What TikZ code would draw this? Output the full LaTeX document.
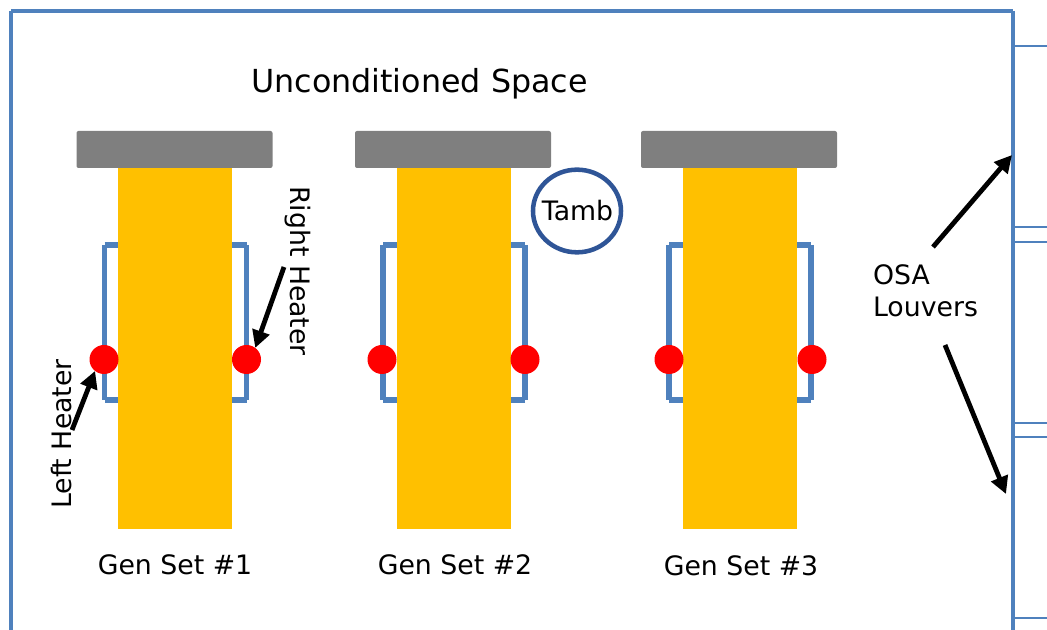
\documentclass[tikz,border=0pt]{standalone}
\usepackage{fontspec}
\setmainfont{DejaVu Sans}
\usetikzlibrary{arrows.meta,shapes.geometric}
\definecolor{wallblue}{HTML}{4F81BD}
\definecolor{tambblue}{HTML}{2F5597}
\definecolor{body}{HTML}{FFC000}
\definecolor{head}{HTML}{7F7F7F}
\tikzset{
  x=0.75pt, y=-0.75pt,
  txt/.style={font=\fontsize{20.05pt}{24pt}\selectfont, inner sep=0pt, outer sep=0pt, text=black},
  bigtxt/.style={font=\fontsize{23.8pt}{28pt}\selectfont, inner sep=0pt, outer sep=0pt, text=black},
  wall/.style={draw=wallblue, line width=3.6pt},
  stub/.style={draw=wallblue, line width=1.6pt},
  bracket/.style={draw=wallblue, line width=4.2pt},
  genbody/.style={fill=body, minimum width=85.5pt, minimum height=270.75pt, inner sep=0pt, outer sep=0pt},
  genhead/.style={fill=head, rounded corners=1.5pt, minimum width=147pt, minimum height=27.75pt, inner sep=0pt, outer sep=0pt},
  heater/.style={circle, fill=red, minimum size=21.75pt, inner sep=0pt, outer sep=0pt},
  pointer/.style={draw=black, line width=3.6pt, -{Triangle[length=13pt,width=13pt]}},
  sensor/.style={ellipse, draw=tambblue, line width=3.4pt, minimum width=66pt, minimum height=62pt, inner sep=0pt},
}
\begin{document}
\begin{tikzpicture}
\useasboundingbox (0,0) rectangle (1047,630);
% outer walls
\coordinate (tl) at (11,11);
\coordinate (tr) at (1013,11);
\coordinate (bl) at (11,630);
\coordinate (br) at (1013,630);
\draw[wall] (tl) -- (bl);
\draw[wall] (tl) -- (tr);
\draw[wall] (tr) -- (br);
% louvers
\foreach \n/\yy in {a/46,b/227,c/242,d/423,e/437,f/618}{
  \coordinate (l\n) at (1013,\yy);
  \coordinate (m\n) at (1047,\yy);
  \draw[stub] (l\n) -- (m\n);
}
% generator sets
\foreach \i/\xb/\xh/\lx/\rx/\cl/\cr/\lab/\ly in {
  1/175/174.5/104.5/246.5/104/246.5/175/565,
  2/454/453/383/525/382/525/455/565,
  3/740/739/669/811/669/812/741/566}{
  \coordinate (tl\i) at (\lx,245);
  \coordinate (bl\i) at (\lx,400);
  \coordinate (tr\i) at (\rx,245);
  \coordinate (br\i) at (\rx,400);
  \coordinate (til\i) at (\xb,245);
  \coordinate (bil\i) at (\xb,400);
  \draw[bracket] (tl\i) -- (bl\i);
  \draw[bracket] (tl\i) -- (til\i);
  \draw[bracket] (bl\i) -- (bil\i);
  \draw[bracket] (tr\i) -- (br\i);
  \draw[bracket] (tr\i) -- (til\i);
  \draw[bracket] (br\i) -- (bil\i);
  \node[genbody] (body\i) at (\xb,348.5) {};
  \node[genhead] (head\i) at (\xh,149.5) {};
  \node[heater] (hl\i) at (\cl,359.5) {};
  \node[heater] (hr\i) at (\cr,359.5) {};
  \node[txt] (gen\i) at (\lab,\ly) {Gen Set \#\i};
}
% labels
\node[bigtxt] (space) at (419.5,84) {Unconditioned Space};
\node[txt, rotate=90] (lefth) at (62,434) {Left Heater};
\node[txt, rotate=-90] (righth) at (298,271) {Right Heater};
\node[sensor] (tamb) at (577,211) {};
\node[txt] (tambtext) at (577.5,211) {Tamb};
\node[txt, anchor=base west] (osa) at (873,285) {OSA};
\node[txt, anchor=base west] (louvers) at (873,317) {Louvers};
% pointers
\coordinate (rs) at (284,267);
\coordinate (ls) at (72,430);
\coordinate (us) at (933,247);
\coordinate (ut) at (1012,155);
\coordinate (ds) at (945,345);
\coordinate (dt) at (1006,494);
\draw[pointer] (rs) -- (hr1.53);
\draw[pointer] (ls) -- (hl1.232);
\draw[pointer] (us) -- (ut);
\draw[pointer] (ds) -- (dt);
\end{tikzpicture}
\end{document}
